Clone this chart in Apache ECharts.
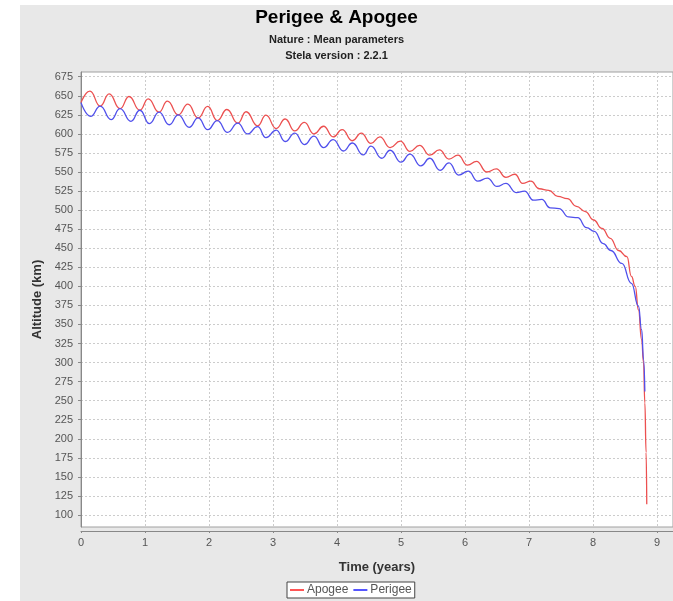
<!DOCTYPE html>
<html>
<head>
<meta charset="utf-8">
<script src="https://cdn.jsdelivr.net/npm/echarts@6/dist/echarts.min.js"></script>
<style>html,body{margin:0;padding:0;background:#fff}#c{width:673px;height:601px}</style>
</head>
<body>
<div id="c"></div>
<script>
// ---- data ----
const apogeeTime = [0, 0.14, 0.30, 0.44, 0.61, 0.75, 0.92, 1.05, 1.22, 1.35, 1.52, 1.67, 1.83, 1.98, 2.13, 2.28, 2.45, 2.58, 2.76, 2.89, 3.05, 3.19, 3.34, 3.49, 3.64, 3.79, 3.94, 4.08, 4.24, 4.38, 4.53, 4.67, 4.83, 4.99, 5.14, 5.29, 5.45, 5.60, 5.75, 5.89, 6.04, 6.18, 6.34, 6.49, 6.64, 6.78, 6.90, 7.03, 7.16, 7.31, 7.45, 7.60, 7.74, 7.88, 8.01, 8.14, 8.27, 8.40, 8.53, 8.60, 8.66, 8.71, 8.76, 8.79, 8.81, 8.83, 8.84];
const apogeeAlt = [641, 656, 636.5, 652.5, 633, 649, 631, 646, 628.5, 643, 625, 639, 621, 636, 617.5, 632, 614, 629, 610.5, 624.5, 607, 619.5, 604, 615, 600, 610, 596, 605.5, 591, 601, 587.5, 596, 582, 590.5, 577, 585, 572, 579, 567, 572, 559, 564, 550, 554, 543, 547, 535, 538, 528, 526, 518, 515, 505, 498, 487, 476, 463, 447, 439, 413, 400, 369, 330, 300, 247, 182, 114];

const perigeeTime = [0, 0.15, 0.30, 0.47, 0.61, 0.78, 0.92, 1.07, 1.22, 1.38, 1.52, 1.69, 1.83, 1.98, 2.13, 2.29, 2.45, 2.60, 2.76, 2.89, 3.05, 3.19, 3.34, 3.49, 3.64, 3.79, 3.94, 4.10, 4.24, 4.41, 4.53, 4.70, 4.83, 5.00, 5.14, 5.31, 5.45, 5.61, 5.75, 5.90, 6.05, 6.20, 6.35, 6.50, 6.64, 6.80, 6.93, 7.07, 7.20, 7.33, 7.47, 7.62, 7.76, 7.90, 8.02, 8.16, 8.28, 8.45, 8.60, 8.71, 8.76, 8.79, 8.81];
const perigeeAlt = [641, 623, 636.5, 618.7, 633, 616.5, 631, 613.5, 628.5, 612, 625, 608.5, 621, 605.5, 617.5, 602, 614, 600, 609.5, 595, 605, 590, 601, 586, 597, 582, 592.5, 577.5, 588, 572.5, 584, 568, 578.5, 563, 573.5, 558, 568, 552, 562, 546, 551, 538, 542, 531, 535, 523, 525, 513, 514, 503, 502, 491, 490, 477, 472, 456, 447, 430, 404, 374, 343, 304, 262];

const xTicks = [0, 1, 2, 3, 4, 5, 6, 7, 8, 9];
const yTicks = [100, 125, 150, 175, 200, 225, 250, 275, 300, 325, 350, 375, 400, 425, 450, 475, 500, 525, 550, 575, 600, 625, 650, 675];

const seriesNames = ['Apogee', 'Perigee'];
const titleText = 'Perigee & Apogee';
const subText1 = 'Nature : Mean parameters';
const subText2 = 'Stela version : 2.2.1';

function pairs(ts, vs) { return ts.map((t, i) => [t, vs[i]]); }

const chart = echarts.init(document.getElementById('c'), null, {renderer: 'canvas'});
const FONT = 'Liberation Sans';
const gridLine = {show: true, lineStyle: {color: '#cccccc', type: [2, 2], width: 1}};

chart.setOption({
  animation: false,
  backgroundColor: '#e8e8e8',
  graphic: [
    {type: 'rect', shape: {x: 0, y: 0, width: 20, height: 601}, style: {fill: '#fff'}, silent: true},
    {type: 'rect', shape: {x: 0, y: 0, width: 673, height: 5}, style: {fill: '#fff'}, silent: true}
  ],
  title: [
    {text: titleText, left: 'center', top: 8, padding: 0,
     textStyle: {fontFamily: FONT, fontSize: 19, fontWeight: 'bold', color: '#000'}},
    {text: subText1, left: 'center', top: 34, padding: 0,
     textStyle: {fontFamily: FONT, fontSize: 11, fontWeight: 'bold', color: '#222'}},
    {text: subText2, left: 'center', top: 50, padding: 0,
     textStyle: {fontFamily: FONT, fontSize: 11, fontWeight: 'bold', color: '#222'}}
  ],
  legend: {
    data: seriesNames,
    left: 287, top: 582,
    padding: [2, 3],
    itemGap: 5, itemWidth: 14, itemHeight: 2,
    icon: 'rect',
    backgroundColor: '#fff', borderColor: '#444', borderWidth: 1, borderRadius: 0,
    textStyle: {fontFamily: FONT, fontSize: 12, color: '#555', padding: [0, 0, 0, -2]}
  },
  grid: {
    left: 81, right: 0, top: 72, bottom: 74,
    show: true, backgroundColor: '#fff', borderColor: '#a0a0a0', borderWidth: 1
  },
  xAxis: {
    type: 'value', min: 0, max: 9.25, offset: 4,
    name: 'Time (years)', nameLocation: 'middle', nameGap: 30,
    nameTextStyle: {fontFamily: FONT, fontSize: 13, fontWeight: 'bold', color: '#333'},
    axisLine: {show: true, lineStyle: {color: '#888'}},
    axisTick: {show: true, length: 2, customValues: xTicks, lineStyle: {color: '#888'}},
    axisLabel: {customValues: xTicks, fontFamily: FONT, fontSize: 11, color: '#555', margin: 6},
    splitLine: gridLine
  },
  yAxis: {
    type: 'value', min: 84.26, max: 681.17, offset: 2,
    name: 'Altitude (km)', nameLocation: 'middle', nameGap: 35, nameRotate: 90,
    nameTextStyle: {fontFamily: FONT, fontSize: 13, fontWeight: 'bold', color: '#333'},
    axisLine: {show: true, lineStyle: {color: '#888'}},
    axisTick: {show: true, length: 3, customValues: yTicks, lineStyle: {color: '#888'}},
    axisLabel: {customValues: yTicks, fontFamily: FONT, fontSize: 11, color: '#555', margin: 6},
    splitLine: gridLine
  },
  series: [
    {name: seriesNames[0], type: 'line', data: pairs(apogeeTime, apogeeAlt),
     showSymbol: false, symbol: 'none', smooth: 0.5, smoothMonotone: 'x',
     color: '#ff5555', lineStyle: {width: 1.3, color: '#ec5050'}},
    {name: seriesNames[1], type: 'line', data: pairs(perigeeTime, perigeeAlt),
     showSymbol: false, symbol: 'none', smooth: 0.5, smoothMonotone: 'x',
     color: '#5555ff', lineStyle: {width: 1.3, color: '#5050ec'}}
  ]
});
</script>
</body>
</html>
